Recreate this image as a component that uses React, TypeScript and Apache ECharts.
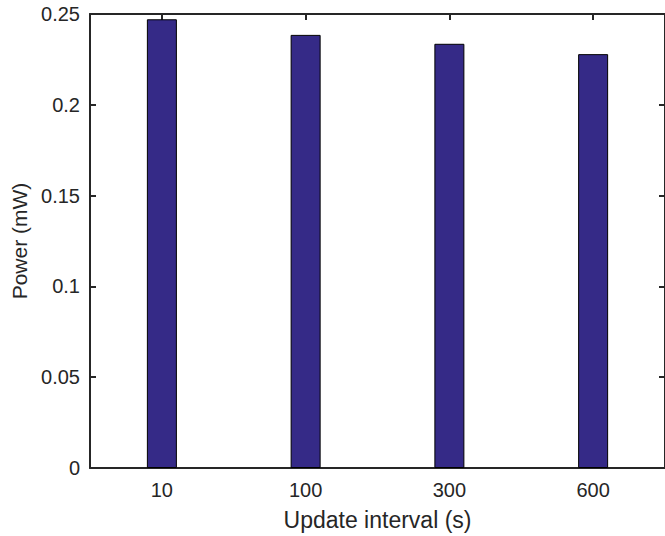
import React, { useEffect, useRef } from "react";
import * as echarts from "echarts";

const categories = ["10", "100", "300", "600"];
const powerValues = [0.2471, 0.2385, 0.2336, 0.2279];
const yTicks = { min: 0, max: 0.25, interval: 0.05 };

export default function App() {
  const ref = useRef<HTMLDivElement>(null);
  useEffect(() => {
    if (!ref.current) return;
    const chart = echarts.init(ref.current, undefined, { renderer: "svg" });
    const axisLine = { show: true, onZero: false, lineStyle: { color: "#262626", width: 2 } };
    const tick = { show: true, inside: true, length: 6, lineStyle: { color: "#262626", width: 2 } };
    const font = "'Liberation Sans', Arial, Helvetica, sans-serif";
    chart.setOption({
      animation: false,
      backgroundColor: "#ffffff",
      grid: { left: 90, top: 14, width: 579, height: 456, containLabel: false },
      xAxis: [
        {
          type: "category",
          data: categories,
          position: "bottom",
          name: "Update interval (s)",
          nameLocation: "middle",
          nameGap: 40,
          nameTextStyle: { fontSize: 23, color: "#262626", fontFamily: font },
          axisLine,
          axisTick: { ...tick, alignWithLabel: true },
          axisLabel: { fontSize: 20, color: "#262626", fontFamily: font, margin: 12 },
          splitLine: { show: false },
        },
        {
          type: "category",
          data: categories,
          position: "top",
          axisLine,
          axisTick: { ...tick, alignWithLabel: true },
          axisLabel: { show: false },
          splitLine: { show: false },
        },
      ],
      yAxis: [
        {
          type: "value",
          position: "left",
          min: yTicks.min,
          max: yTicks.max,
          interval: yTicks.interval,
          name: "Power (mW)",
          nameLocation: "middle",
          nameGap: 58,
          nameTextStyle: { fontSize: 21, color: "#262626", fontFamily: font },
          axisLine,
          axisTick: tick,
          axisLabel: { fontSize: 20, color: "#262626", fontFamily: font, margin: 10 },
          splitLine: { show: false },
        },
        {
          type: "value",
          position: "right",
          min: yTicks.min,
          max: yTicks.max,
          interval: yTicks.interval,
          axisLine,
          axisTick: tick,
          axisLabel: { show: false },
          splitLine: { show: false },
        },
      ],
      series: [
        {
          type: "bar",
          data: powerValues,
          xAxisIndex: 0,
          yAxisIndex: 0,
          barWidth: 30,
          itemStyle: { color: "#352a87", borderColor: "#000000", borderWidth: 1 },
        },
      ],
    });
    return () => chart.dispose();
  }, []);
  return (
    <div
      ref={ref}
      style={{ position: "absolute", left: 0, top: 0, width: 665, height: 536 }}
    />
  );
}
